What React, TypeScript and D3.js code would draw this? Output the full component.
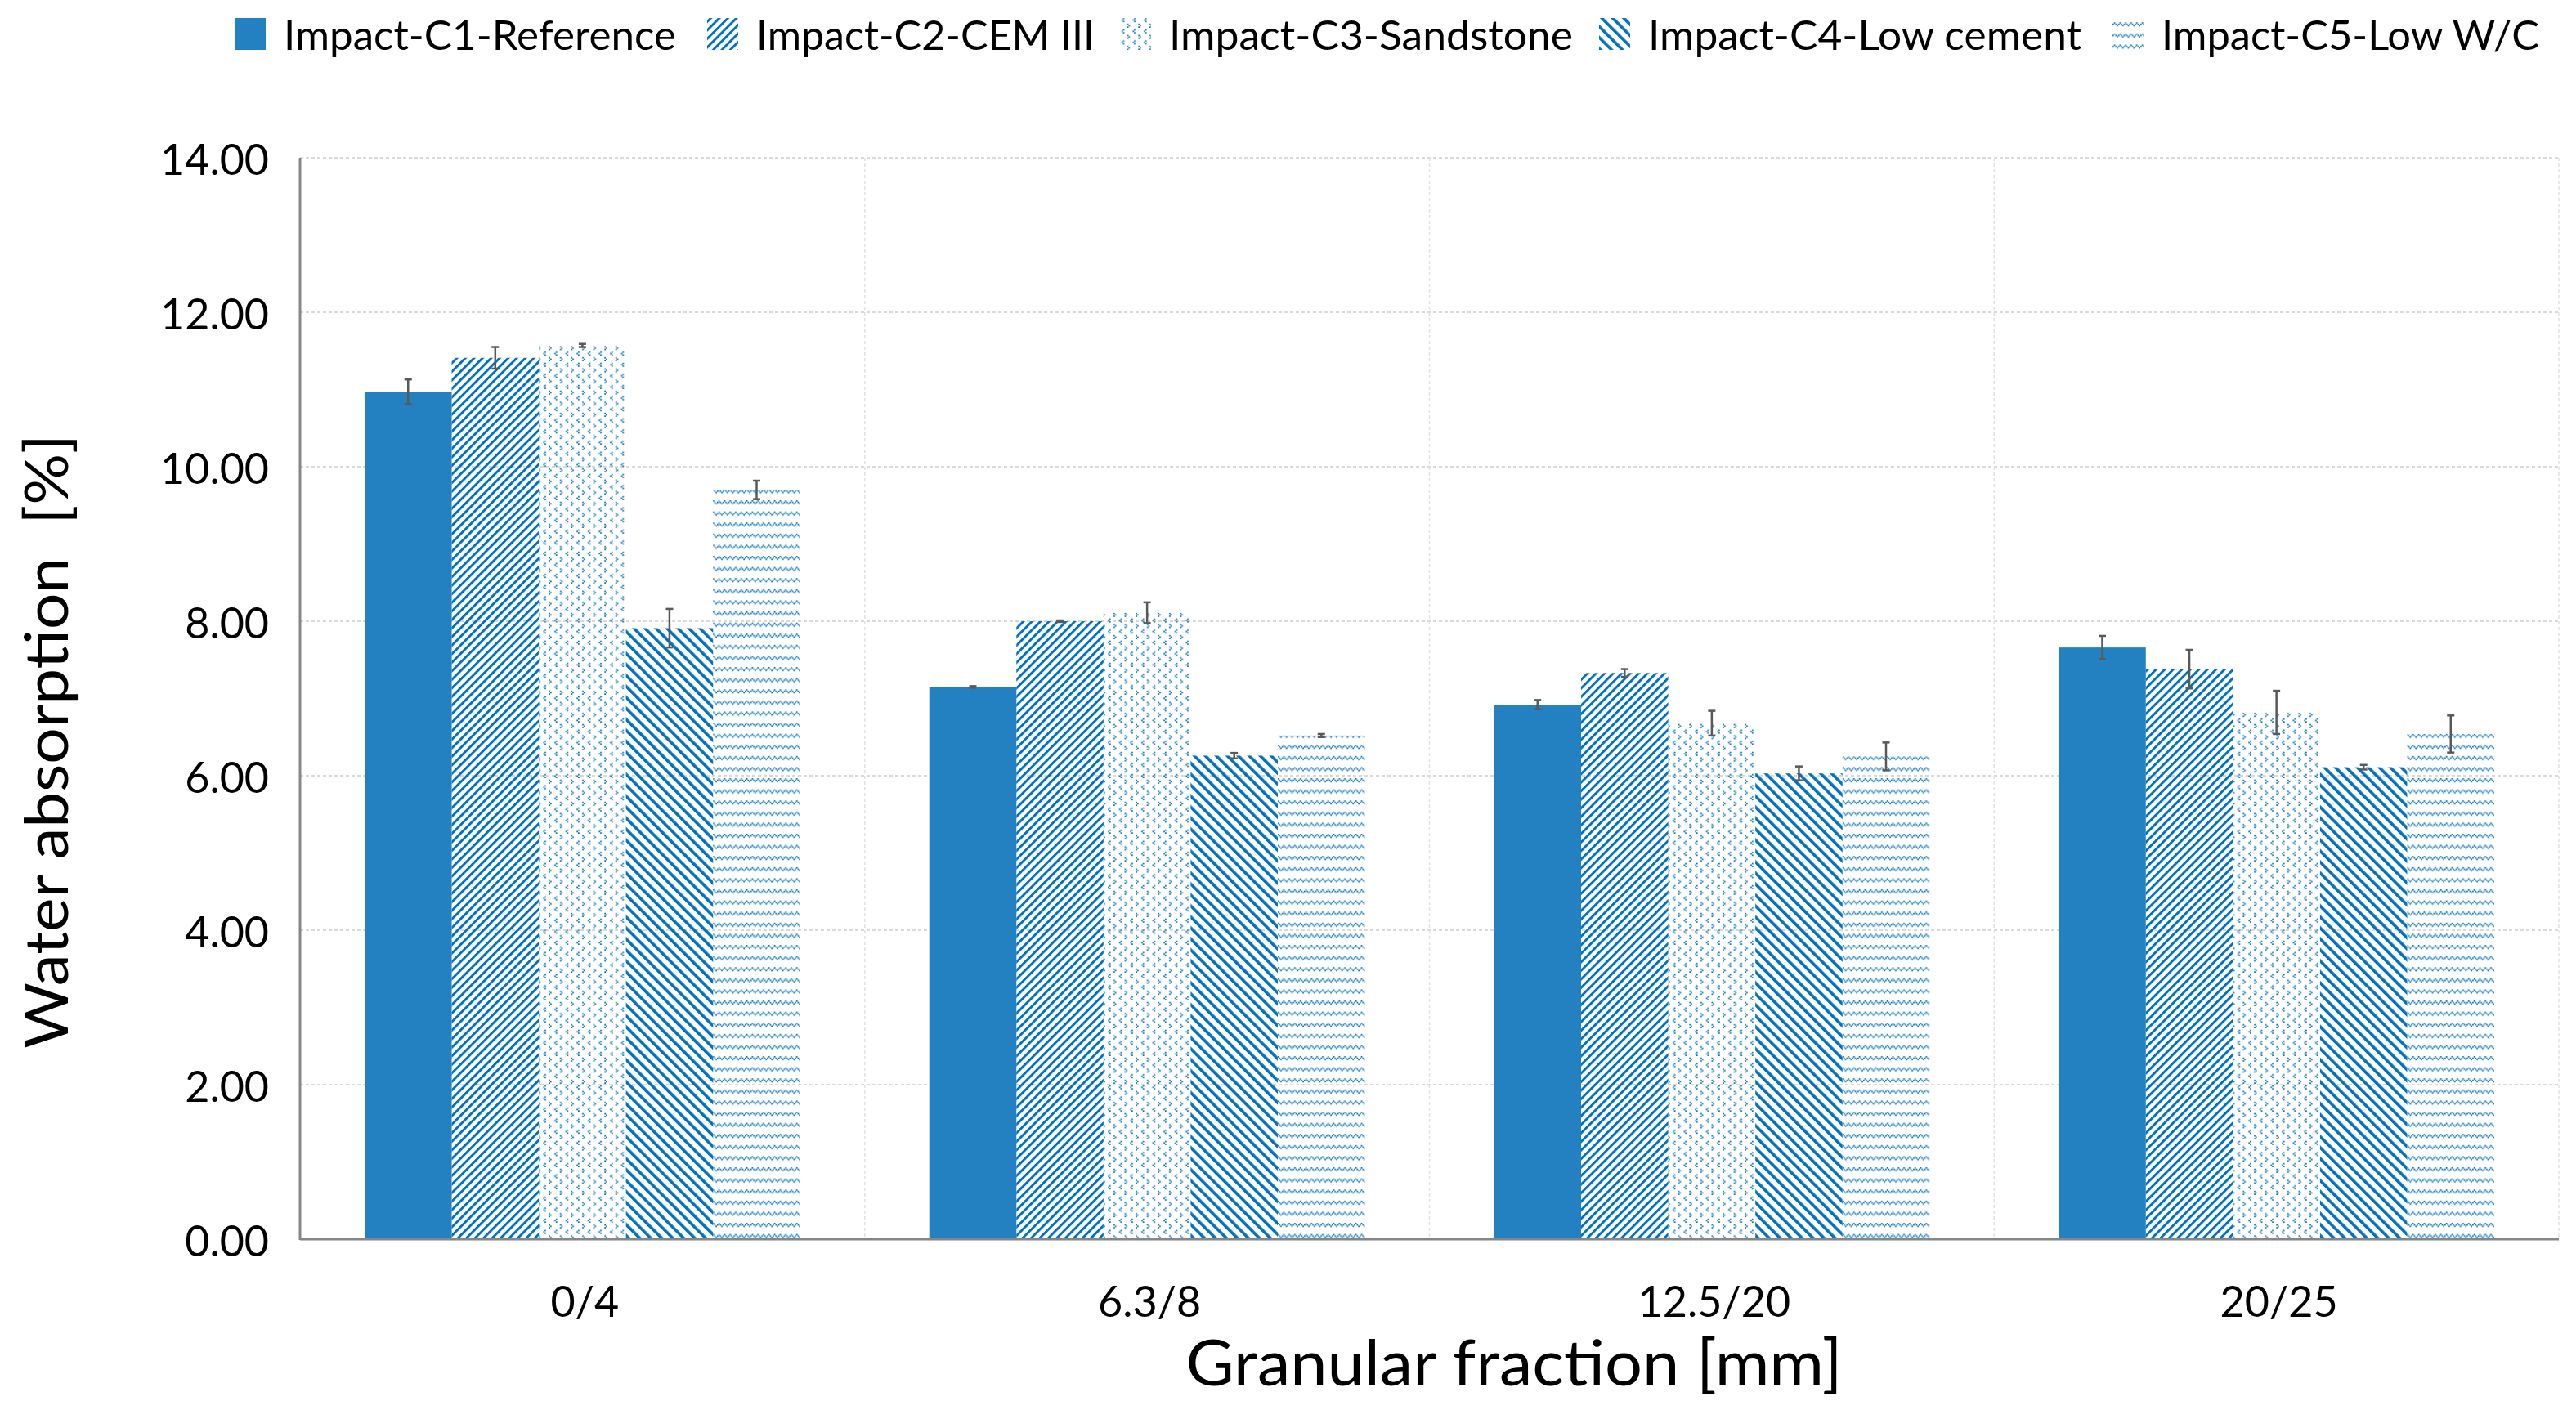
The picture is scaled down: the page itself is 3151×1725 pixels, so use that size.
import React from "react";
import * as d3 from "d3";

const categories = ["0/4", "6.3/8", "12.5/20", "20/25"];
const seriesNames = [
  "Impact-C1-Reference",
  "Impact-C2-CEM III",
  "Impact-C3-Sandstone",
  "Impact-C4-Low cement",
  "Impact-C5-Low W/C",
];
const c1Values = [10.97, 7.15, 6.92, 7.66];
const c1Errors = [0.16, 0.01, 0.06, 0.15];
const c2Values = [11.41, 8.0, 7.33, 7.38];
const c2Errors = [0.14, 0.01, 0.05, 0.25];
const c3Values = [11.57, 8.11, 6.68, 6.82];
const c3Errors = [0.02, 0.135, 0.16, 0.28];
const c4Values = [7.91, 6.26, 6.03, 6.11];
const c4Errors = [0.25, 0.035, 0.09, 0.03];
const c5Values = [9.7, 6.52, 6.25, 6.54];
const c5Errors = [0.12, 0.02, 0.18, 0.24];
const yTicks = [0, 2, 4, 6, 8, 10, 12, 14];
const yTitle = "Water absorption\u00a0\u00a0[%]";
const xTitle = "Granular fraction [mm]";

const seriesValues = [c1Values, c2Values, c3Values, c4Values, c5Values];
const seriesErrors = [c1Errors, c2Errors, c3Errors, c4Errors, c5Errors];

// layout
const W = 3151;
const H = 1725;
const M = { left: 367, right: 3130, top: 193, bottom: 1516 };
const FONT = "Lato, 'Open Sans', 'DejaVu Sans', sans-serif";
const SOLID = "#2481C1";
const PAT = "#0070C0";
const fills = ["url(#p1)", "url(#p2)", "url(#p3)", "url(#p4)", "url(#p5)"];
const legendX = [287, 865, 1370, 1956, 2584];
const legendTextLen = [480, 414, 494, 530, 462];

const PX = 1.7;
const divot: [number, number][] = [
  [3, 1], [4, 2], [3, 3], [0, 5], [7, 6], [0, 7],
];
const wave: [number, number][] = [
  [0, 1], [1, 0], [2, 1], [3, 2],
];

export default function App() {
  const x0 = d3.scaleBand<string>().domain(categories).range([M.left, M.right]).padding(0);
  const x1 = d3
    .scaleBand<string>()
    .domain(seriesNames)
    .range([0, x0.bandwidth()])
    .paddingInner(0)
    .paddingOuter(0.741);
  const y = d3.scaleLinear().domain([0, 14]).range([M.bottom, M.top]);
  const fmt = d3.format(".2f");
  const bw = x1.bandwidth();

  return (
    <svg
      width={W}
      height={H}
      style={{ position: "absolute", left: 0, top: 0, background: "#fff" }}
      fontFamily={FONT}
    >
      <defs>
        <pattern id="p1" patternUnits="userSpaceOnUse" width={10} height={10}>
          <rect width={10} height={10} fill={SOLID} />
        </pattern>
        <pattern
          id="p2"
          patternUnits="userSpaceOnUse"
          width={7.4}
          height={7.4}
          patternTransform="rotate(45)"
        >
          <rect x={0} y={0} width={2.9} height={7.4} fill={PAT} />
        </pattern>
        <pattern id="p3" patternUnits="userSpaceOnUse" width={8 * PX} height={8 * PX}>
          {divot.map(([cx, cy], i) => (
            <rect key={i} x={cx * PX} y={cy * PX} width={PX} height={PX} fill={PAT} />
          ))}
        </pattern>
        <pattern
          id="p4"
          patternUnits="userSpaceOnUse"
          width={9.5}
          height={9.5}
          patternTransform="rotate(-45)"
        >
          <rect x={0} y={0} width={3.6} height={9.5} fill={PAT} />
        </pattern>
        <pattern id="p5" patternUnits="userSpaceOnUse" width={4 * PX} height={8 * PX}>
          {wave.map(([cx, cy], i) => (
            <rect key={i} x={cx * PX} y={cy * PX} width={PX} height={PX} fill={PAT} />
          ))}
        </pattern>
      </defs>
      <rect width={W} height={H} fill="#fff" />

      {/* horizontal gridlines */}
      {yTicks
        .filter((t) => t > 0)
        .map((t) => (
          <line
            key={"h" + t}
            x1={M.left}
            x2={M.right}
            y1={y(t)}
            y2={y(t)}
            stroke="#D9D9D9"
            strokeWidth={2}
            strokeDasharray="4 3"
          />
        ))}
      {/* vertical gridlines */}
      {categories.map((c) => (
        <line
          key={"v" + c}
          x1={(x0(c) as number) + x0.bandwidth()}
          x2={(x0(c) as number) + x0.bandwidth()}
          y1={M.top}
          y2={M.bottom}
          stroke="#E2E2E2"
          strokeWidth={1.5}
          strokeDasharray="4 3"
        />
      ))}

      {/* bars */}
      {categories.map((c, ci) => (
        <g key={c} transform={`translate(${x0(c)},0)`}>
          {seriesNames.map((s, si) => {
            const v = seriesValues[si][ci];
            const bx = x1(s) as number;
            return (
              <rect
                key={s}
                x={bx}
                y={y(v)}
                width={bw}
                height={y(0) - y(v)}
                fill={fills[si]}
              />
            );
          })}
        </g>
      ))}

      {/* error bars */}
      {categories.map((c, ci) => (
        <g key={"e" + c} transform={`translate(${x0(c)},0)`}>
          {seriesNames.map((s, si) => {
            const v = seriesValues[si][ci];
            const e = seriesErrors[si][ci];
            const cx = (x1(s) as number) + bw / 2;
            return (
              <g key={s} stroke="#595959" strokeWidth={2.5}>
                <line x1={cx} x2={cx} y1={y(v + e)} y2={y(v - e)} />
                <line x1={cx - 4.5} x2={cx + 4.5} y1={y(v + e)} y2={y(v + e)} />
                <line x1={cx - 4.5} x2={cx + 4.5} y1={y(v - e)} y2={y(v - e)} />
              </g>
            );
          })}
        </g>
      ))}

      {/* axes */}
      <line x1={M.left} x2={M.left} y1={M.top} y2={M.bottom + 1} stroke="#868686" strokeWidth={3} />
      <line x1={M.left} x2={M.right} y1={M.bottom} y2={M.bottom} stroke="#868686" strokeWidth={3} />

      {yTicks.map((t) => (
        <text key={"t" + t} x={329} y={y(t) + 21} textAnchor="end" fontSize={52} fill="#000">
          {fmt(t)}
        </text>
      ))}
      {categories.map((c) => (
        <text
          key={"c" + c}
          x={(x0(c) as number) + x0.bandwidth() / 2 + 3}
          y={1611}
          textAnchor="middle"
          fontSize={52}
          fill="#000"
        >
          {c}
        </text>
      ))}

      <text
        x={1852}
        y={1695}
        textAnchor="middle"
        fontSize={78}
        textLength={803}
        lengthAdjust="spacingAndGlyphs"
        fill="#000"
      >
        {xTitle}
      </text>
      <text
        transform={`translate(83,907) rotate(-90)`}
        textAnchor="middle"
        fontSize={74}
        textLength={752}
        lengthAdjust="spacingAndGlyphs"
        fill="#000"
      >
        {yTitle}
      </text>

      {/* legend */}
      {seriesNames.map((s, i) => (
        <g key={"l" + s}>
          <rect x={legendX[i]} y={22} width={38} height={39} fill={fills[i]} />
          <text
            x={legendX[i] + 60}
            y={61}
            fontSize={50}
            textLength={legendTextLen[i]}
            lengthAdjust="spacingAndGlyphs"
            fill="#000"
          >
            {s}
          </text>
        </g>
      ))}
    </svg>
  );
}
